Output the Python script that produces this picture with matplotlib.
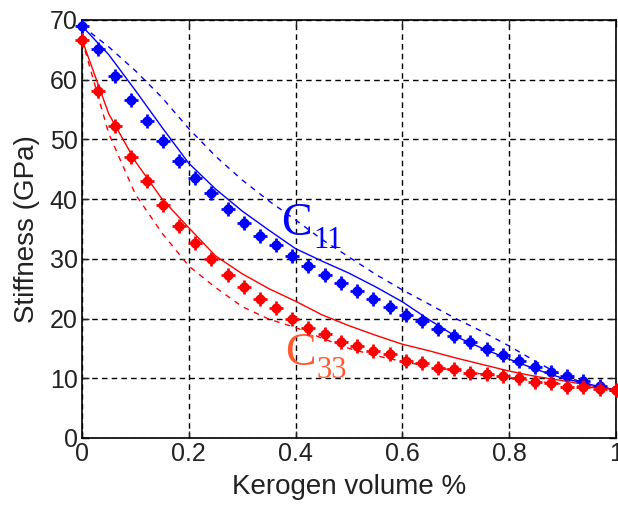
import numpy as np
import matplotlib
matplotlib.use("Agg")
import matplotlib.pyplot as plt

plt.rcParams['font.family'] = ['Liberation Sans', 'DejaVu Sans']

# kerogen fraction of the sampled points
x_pts = [0.000, 0.030, 0.061, 0.091, 0.121, 0.152, 0.182, 0.212, 0.242, 0.273,
         0.303, 0.333, 0.364, 0.394, 0.424, 0.455, 0.485, 0.515, 0.545, 0.576,
         0.606, 0.636, 0.667, 0.697, 0.727, 0.758, 0.788, 0.818, 0.848, 0.879,
         0.909, 0.939, 0.970, 1.000]
c11_pts = [69.0, 65.2, 60.7, 56.6, 53.1, 49.7, 46.4, 43.5, 41.0, 38.3,
           36.0, 33.8, 32.3, 30.5, 28.8, 27.3, 25.9, 24.6, 23.3, 22.0,
           20.6, 19.6, 18.2, 17.0, 16.0, 14.9, 13.9, 12.9, 11.9, 11.1,
           10.4, 9.6, 8.7, 8.0]
c33_pts = [66.7, 58.1, 52.3, 47.0, 43.0, 39.0, 35.5, 32.7, 29.9, 27.3,
           25.3, 23.2, 21.7, 19.9, 18.5, 17.4, 16.1, 15.4, 14.5, 14.0,
           12.9, 12.5, 11.8, 11.5, 10.8, 10.7, 10.3, 10.0, 9.4, 9.2,
           8.6, 8.5, 8.2, 8.0]

# model curves
x_line = [0.00, 0.05, 0.10, 0.15, 0.20, 0.25, 0.30, 0.35, 0.40, 0.45, 0.50,
          0.55, 0.60, 0.65, 0.70, 0.75, 0.80, 0.85, 0.90, 0.95, 1.00]
c11_solid = [69.0, 64.2, 58.2, 52.0, 46.0, 41.7, 38.0, 34.8, 31.7, 29.6, 27.6,
             25.3, 22.8, 19.8, 17.0, 15.0, 13.2, 11.5, 10.0, 9.0, 8.0]
c11_dash = [69.0, 65.5, 61.5, 57.0, 51.8, 47.2, 43.2, 39.7, 36.5, 33.2, 30.3,
            27.4, 24.8, 22.4, 20.0, 17.8, 15.4, 12.8, 10.4, 9.0, 8.0]
c33_solid = [66.7, 54.3, 46.3, 40.0, 35.2, 30.5, 27.5, 25.0, 22.9, 20.6, 18.8,
             17.2, 15.7, 14.6, 13.4, 12.3, 11.2, 10.3, 9.6, 8.8, 8.0]
c33_dash = [66.7, 51.0, 40.8, 34.3, 28.8, 25.2, 22.0, 19.9, 18.5, 16.7, 15.0,
            13.8, 12.8, 12.0, 11.3, 10.7, 10.1, 9.5, 9.0, 8.5, 8.0]

xticks = [0, 0.2, 0.4, 0.6, 0.8, 1]
xticklabels = ['0', '0.2', '0.4', '0.6', '0.8', '1']
yticks = [0, 10, 20, 30, 40, 50, 60, 70]

fig = plt.figure(figsize=(6.18, 5.05), dpi=100)
ax = fig.add_axes([0.1327, 0.1327, 0.8641, 0.8277])

blue = '#0000ff'
red = '#ff0000'
orange = '#ff5a32'

ax.plot(x_line, c11_solid, color=blue, lw=1.0)
ax.plot(x_line, c11_dash, color=blue, lw=1.0, dashes=(4, 4))
ax.plot(x_line, c33_solid, color=red, lw=1.0)
ax.plot(x_line, c33_dash, color=red, lw=1.0, dashes=(4, 4))

for ys, col in [(c11_pts, blue), (c33_pts, red)]:
    ax.plot(x_pts, ys, ls='none', marker='8', ms=7, color=col, mec=col, clip_on=False, zorder=4)
    ax.plot(x_pts, ys, ls='none', marker='+', ms=10, mew=2, color=col, clip_on=False, zorder=4)

# curve labels: C with a smaller subscript index
ax.text(0.373, 34.0, 'C', color=blue, fontsize=33, family='Liberation Serif', ha='left', va='baseline')
ax.text(0.433, 31.8, '11', color=blue, fontsize=22, family='Liberation Serif', ha='left', va='baseline')
ax.text(0.380, 12.2, 'C', color=orange, fontsize=33, family='Liberation Serif', ha='left', va='baseline')
ax.text(0.440, 10.0, '33', color=orange, fontsize=22, family='Liberation Serif', ha='left', va='baseline')

ax.set_xlim(0, 1)
ax.set_ylim(0, 70)
ax.set_xticks(xticks)
ax.set_xticklabels(xticklabels)
ax.set_yticks(yticks)
ax.tick_params(direction='in', length=5, width=1, top=True, right=True,
               labelsize=18, pad=3, colors='#222222')
ax.grid(True, color='black', lw=1.0, ls=(0, (4, 3)))
for s in ax.spines.values():
    s.set_linewidth(1.2)

ax.set_xlabel('Kerogen volume %', fontsize=20, labelpad=6, color='#222222')
ax.set_ylabel('Stiffness (GPa)', fontsize=20, labelpad=7, color='#222222')

fig.savefig('out.png', dpi=100)
